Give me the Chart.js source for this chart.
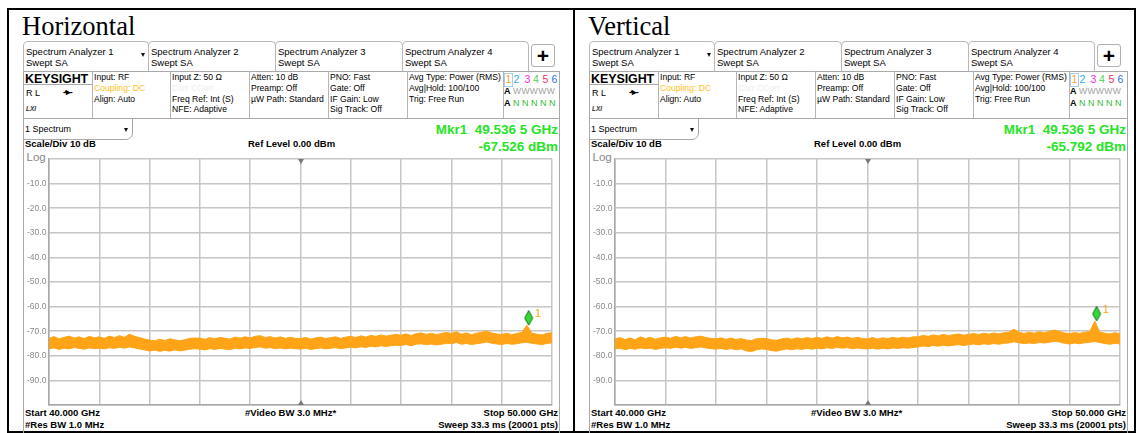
<!DOCTYPE html>
<html><head><meta charset="utf-8">
<script src="https://cdn.jsdelivr.net/npm/chart.js@4.4.1/dist/chart.umd.min.js"></script>
<style>
html,body{margin:0;padding:0;background:#fff;}
body{width:1136px;height:433px;position:relative;overflow:hidden;font-family:"Liberation Sans",Arial,sans-serif;color:#000;}
.a{position:absolute;white-space:pre;line-height:1;}
.box{position:absolute;box-sizing:border-box;}
canvas{position:absolute;}
</style></head><body>
<script>
// ---------------- data ----------------
const freqGHz = [
 40.0,40.1,40.2,40.3,40.4,40.5,40.6,40.7,40.8,40.9,
 41.0,41.1,41.2,41.3,41.4,41.5,41.6,41.7,41.8,41.9,
 42.0,42.1,42.2,42.3,42.4,42.5,42.6,42.7,42.8,42.9,
 43.0,43.1,43.2,43.3,43.4,43.5,43.6,43.7,43.8,43.9,
 44.0,44.1,44.2,44.3,44.4,44.5,44.6,44.7,44.8,44.9,
 45.0,45.1,45.2,45.3,45.4,45.5,45.6,45.7,45.8,45.9,
 46.0,46.1,46.2,46.3,46.4,46.5,46.6,46.7,46.8,46.9,
 47.0,47.1,47.2,47.3,47.4,47.5,47.6,47.7,47.8,47.9,
 48.0,48.1,48.2,48.3,48.4,48.5,48.6,48.7,48.8,48.9,
 49.0,49.1,49.2,49.3,49.4,49.5,49.6,49.7,49.8,49.9,50.0];

// Horizontal: upper / lower edge of the noisy trace (dBm)
const horizUpper = [
 -72.9,-72.2,-73.1,-72.5,-72.0,-72.8,-72.3,-73.0,-72.1,-72.7,
 -72.3,-72.9,-72.0,-72.6,-71.8,-72.5,-71.2,-72.1,-72.6,-73.2,
 -73.6,-73.9,-73.3,-73.8,-73.1,-73.5,-73.9,-73.5,-72.9,-72.8,
 -72.8,-73.3,-72.6,-73.1,-72.5,-72.9,-73.2,-72.4,-72.8,-72.3,
 -72.7,-72.1,-71.8,-72.6,-72.2,-72.8,-72.3,-72.9,-72.5,-72.9,
 -73.0,-72.5,-73.2,-72.7,-72.4,-73.0,-72.6,-72.3,-72.9,-72.4,
 -72.1,-72.6,-71.9,-72.4,-71.7,-72.1,-71.5,-72.0,-71.6,-71.3,
 -71.6,-71.1,-71.7,-71.0,-70.7,-71.3,-70.8,-71.4,-70.9,-70.5,
 -70.9,-70.2,-71.2,-70.7,-71.4,-70.8,-70.4,-69.9,-70.7,-71.1,
 -71.3,-70.8,-71.4,-70.9,-70.5,-67.6,-70.8,-71.2,-71.5,-70.9,-70.6];
const horizLower = [
 -77.1,-76.8,-77.4,-76.9,-77.2,-76.6,-77.0,-77.3,-76.8,-77.1,
 -76.9,-77.2,-76.7,-77.0,-76.5,-76.9,-76.4,-76.8,-77.2,-77.6,
 -78.0,-77.7,-78.2,-77.8,-78.1,-77.6,-78.0,-77.7,-77.3,-77.1,
 -77.3,-77.6,-77.1,-77.4,-77.0,-77.3,-77.5,-76.9,-77.2,-76.8,
 -77.0,-76.6,-76.4,-76.9,-76.7,-77.1,-76.8,-77.2,-76.9,-77.1,
 -77.3,-76.9,-77.4,-77.1,-76.8,-77.2,-76.9,-76.7,-77.1,-76.8,
 -76.5,-76.8,-76.3,-76.6,-76.1,-76.4,-75.9,-76.2,-75.9,-75.7,
 -75.8,-75.4,-75.9,-75.3,-75.1,-75.5,-75.2,-75.6,-75.3,-74.9,
 -75.1,-74.6,-75.3,-75.0,-75.4,-75.1,-74.8,-74.4,-74.9,-75.2,
 -75.4,-75.0,-75.3,-75.1,-74.7,-74.5,-74.9,-75.2,-75.4,-75.0,-74.7];

// Vertical: upper / lower edge of the noisy trace (dBm)
const vertUpper = [
 -73.2,-72.6,-73.4,-72.8,-73.5,-72.3,-73.0,-72.5,-73.3,-72.7,
 -72.4,-72.9,-72.1,-72.7,-72.2,-72.8,-72.3,-72.0,-72.6,-72.9,
 -73.1,-72.7,-73.3,-72.8,-73.4,-73.0,-73.6,-73.8,-73.1,-72.9,
 -73.0,-73.5,-73.7,-73.1,-72.8,-73.3,-72.7,-73.1,-72.6,-73.0,
 -72.5,-72.9,-72.3,-72.8,-72.2,-72.7,-72.4,-72.9,-72.5,-73.0,
 -73.1,-72.6,-73.2,-72.7,-73.0,-72.5,-72.9,-72.4,-72.8,-72.3,
 -72.3,-71.7,-72.1,-71.5,-71.9,-71.3,-71.8,-71.4,-71.1,-71.6,
 -71.3,-70.9,-71.4,-70.8,-71.2,-70.7,-71.1,-70.6,-70.4,-69.2,
 -70.4,-70.9,-70.4,-70.8,-70.2,-70.6,-70.1,-69.5,-70.1,-70.7,
 -71.0,-70.5,-70.9,-70.4,-70.2,-65.9,-70.4,-70.8,-71.1,-70.6,-71.0];
const vertLower = [
 -77.2,-76.9,-77.5,-77.0,-77.3,-76.8,-77.1,-76.9,-77.4,-77.0,
 -76.7,-77.0,-76.5,-76.9,-76.6,-77.0,-76.7,-76.4,-76.8,-77.1,
 -77.3,-77.0,-77.4,-77.1,-77.5,-77.2,-78.0,-78.3,-77.6,-77.2,
 -77.4,-77.9,-78.1,-77.6,-77.2,-77.5,-77.1,-77.4,-77.0,-77.3,
 -76.9,-77.2,-76.7,-77.0,-76.6,-76.9,-76.7,-77.1,-76.8,-77.1,
 -77.2,-76.9,-77.3,-77.0,-77.2,-76.8,-77.0,-76.7,-76.9,-76.6,
 -76.4,-76.0,-76.3,-75.8,-76.1,-75.7,-76.0,-75.7,-75.5,-75.8,
 -75.5,-75.2,-75.6,-75.1,-75.4,-75.0,-75.3,-74.9,-74.8,-74.3,
 -74.7,-75.1,-74.8,-75.0,-74.6,-74.8,-74.5,-74.1,-74.4,-74.9,
 -75.2,-74.8,-75.1,-74.7,-74.5,-74.2,-74.6,-75.0,-75.3,-74.9,-75.2];

const markerFreqGHz = [49.5365, 49.5365];
const markerLevelDbm = [-67.526, -65.792];
const markerFreqText = ["Mkr1  49.536 5 GHz", "Mkr1  49.536 5 GHz"];
const markerLevelText = ["-67.526 dBm", "-65.792 dBm"];
const panelTitles = ["Horizontal", "Vertical"];
const startGHz = 40, stopGHz = 50, centerGHz = 45;
const refLevel = 0, bottomLevel = -100, dbPerDiv = 10;
const tabLabels = ["Spectrum Analyzer 1","Spectrum Analyzer 2","Spectrum Analyzer 3","Spectrum Analyzer 4"];

// ---------------- drawing helpers ----------------
const ORANGE = '#ffa417';
const SANS = '"Liberation Sans",Arial,sans-serif';
const SERIF = '"Liberation Serif","Times New Roman",serif';
function T(p, s, x, base, size, o) {
  o = o || {};
  const d = document.createElement('div');
  d.className = 'a'; d.textContent = s;
  d.style.fontFamily = o.serif ? SERIF : SANS;
  d.style.fontSize = size + 'px';
  d.style.left = x + 'px';
  d.style.top = (base - (o.serif ? 0.8375 : 0.8465) * size) + 'px';
  if (o.bold) d.style.fontWeight = 'bold';
  if (o.italic) d.style.fontStyle = 'italic';
  if (o.color) d.style.color = o.color;
  if (o.ls !== undefined) d.style.letterSpacing = o.ls + 'px';
  if (o.align === 'right') d.style.transform = 'translateX(-100%)';
  if (o.align === 'center') d.style.transform = 'translateX(-50%)';
  p.appendChild(d); return d;
}
function B(p, x, y, w, h, css) {
  const d = document.createElement('div');
  d.className = 'box';
  Object.assign(d.style, {left: x + 'px', top: y + 'px', width: w + 'px', height: h + 'px'}, css || {});
  p.appendChild(d); return d;
}

// diamond marker image (tip at the image centre)
const diamond = document.createElement('canvas');
diamond.width = 12; diamond.height = 32;
(function () {
  const c = diamond.getContext('2d');
  c.beginPath(); c.moveTo(6, 1.5); c.lineTo(10, 9); c.lineTo(6, 16); c.lineTo(2, 9); c.closePath();
  c.fillStyle = '#35d935'; c.fill();
  c.strokeStyle = '#157015'; c.lineWidth = 1; c.stroke();
})();

const decor = {
  id: 'decor',
  afterDatasetsDraw(chart, args, opts) {
    const {ctx, chartArea: a, scales: {x, y}} = chart;
    const cx = Math.round(x.getPixelForValue(centerGHz));
    ctx.save();
    ctx.fillStyle = '#777';
    ctx.beginPath(); ctx.moveTo(cx - 3, a.top); ctx.lineTo(cx + 3, a.top); ctx.lineTo(cx, a.top + 5); ctx.closePath(); ctx.fill();
    ctx.beginPath(); ctx.moveTo(cx - 3, a.bottom); ctx.lineTo(cx + 3, a.bottom); ctx.lineTo(cx, a.bottom - 5); ctx.closePath(); ctx.fill();
    const mx = x.getPixelForValue(opts.mf), my = y.getPixelForValue(opts.ml);
    ctx.fillStyle = ORANGE;
    ctx.font = '11.5px ' + SANS;
    ctx.textBaseline = 'alphabetic';
    ctx.fillText('1', mx + 6, my - 8);
    ctx.restore();
  }
};

function panel(idx, ox, R, upper, lower) {
  const p = document.createElement('div');
  Object.assign(p.style, {position: 'absolute', left: ox + 'px', top: '0px', width: (R + 4) + 'px', height: '433px'});
  document.body.appendChild(p);

  T(p, panelTitles[idx], 22, 35, 26.5, {serif: true});

  // tabs
  const tabX = [23, 148, 275, 402, 528];
  for (let i = 0; i < 4; i++) {
    B(p, tabX[i], 41, tabX[i + 1] - tabX[i] + 1, 31, {border: '1px solid #b8b8b8', borderBottom: 'none', borderRadius: '5px 5px 0 0', background: '#fff'});
    T(p, tabLabels[i], tabX[i] + 3, 55.5, 9.5);
    T(p, 'Swept SA', tabX[i] + 3, 66.5, 9.5);
  }
  B(p, 141, 53, 0, 0, {borderLeft: '2.5px solid transparent', borderRight: '2.5px solid transparent', borderTop: '4px solid #111'});
  B(p, 531, 44, 24, 23, {border: '1px solid #b0b0b0', borderRadius: '3px'});
  T(p, '+', 543, 63, 21, {bold: true, align: 'center'});

  // screen frame
  B(p, 23, 71, R - 23 + 1, 370, {border: '1px solid #a9a9a9'});
  B(p, 23, 118, R - 23, 1, {background: '#a9a9a9'});
  [92, 170, 249, 328, 407, 503].forEach(x => B(p, x, 71, 1, 47, {background: '#b5b5b5'}));
  B(p, 23, 84, 69, 1, {background: '#a9a9a9'});

  T(p, 'KEYSIGHT', 25, 83.3, 12.5, {bold: true, ls: -0.1});
  T(p, 'R L', 26, 96.7, 9);
  T(p, '-•▸-', 63, 96, 9, {bold: true, ls: -1.5});
  T(p, 'LXI', 26, 112, 6.5, {bold: true, italic: true, color: '#333'});

  const fs = 8.6;
  T(p, 'Input: RF', 94, 80.5, fs);
  T(p, 'Coupling: DC', 94, 91, fs, {color: '#ffc21a'});
  T(p, 'Align: Auto', 94, 102, fs);
  T(p, 'Input Z: 50 Ω', 172, 80.5, fs);
  T(p, 'Corr CCorr', 172, 91, fs, {color: '#eeeeee'});
  T(p, 'Freq Ref: Int (S)', 172, 102, fs);
  T(p, 'NFE: Adaptive', 172, 112.5, fs);
  T(p, 'Atten: 10 dB', 251, 80.5, fs);
  T(p, 'Preamp: Off', 251, 91, fs);
  T(p, 'µW Path: Standard', 251, 102, fs);
  T(p, 'PNO: Fast', 330, 80.5, fs);
  T(p, 'Gate: Off', 330, 91, fs);
  T(p, 'IF Gain: Low', 330, 102, fs);
  T(p, 'Sig Track: Off', 330, 112.5, fs);
  T(p, 'Avg Type: Power (RMS)', 409, 80.5, fs);
  T(p, 'Avg|Hold: 100/100', 409, 91, fs);
  T(p, 'Trig: Free Run', 409, 102, fs);

  // trace indicators
  B(p, 503.5, 73, 9, 14, {border: '1px solid #a8cdea'});
  const tc = ['#f7a21b', '#1fb5ec', '#ec2ce6', '#4fd34f', '#f0325a', '#2b6ff2'];
  const tx = [505.5, 513.5, 524.5, 533, 542.5, 551.5];
  for (let i = 0; i < 6; i++) T(p, String(i + 1), tx[i], 83.3, 10.5, {color: tc[i]});
  T(p, 'A', 504, 94.5, 9, {bold: true});
  T(p, 'WWWWW', 513, 94.5, 8.6, {color: '#a0a0a0', ls: 0.3});
  T(p, 'A', 504, 106.7, 9, {bold: true});
  T(p, 'N N N N N', 513, 106.7, 9, {color: '#3ab83a'});

  // spectrum selector + header
  B(p, 23, 118, 110, 22, {border: '1px solid #a9a9a9', borderRadius: '0 0 7px 0'});
  T(p, '1 Spectrum', 25, 133, 9);
  B(p, 124, 128, 0, 0, {borderLeft: '2.5px solid transparent', borderRight: '2.5px solid transparent', borderTop: '4px solid #111'});
  T(p, 'Scale/Div 10 dB', 25, 147.5, 9.5, {bold: true});
  T(p, 'Ref Level 0.00 dBm', 248, 147.5, 9.5, {bold: true});
  T(p, markerFreqText[idx], R - 1, 134, 13.5, {bold: true, color: '#25e325', align: 'right'});
  T(p, markerLevelText[idx], R - 1, 151, 13.5, {bold: true, color: '#25e325', align: 'right'});
  T(p, 'Log', 26.5, 161.5, 11.5, {color: '#8a8a8a'});

  // footer
  T(p, 'Start 40.000 GHz', 25, 416.5, 9.5, {bold: true});
  T(p, '#Res BW 1.0 MHz', 25, 428, 9.5, {bold: true});
  T(p, '#Video BW 3.0 MHz*', 245, 416.5, 9.5, {bold: true});
  T(p, 'Stop 50.000 GHz', R - 1, 416.5, 9.5, {bold: true, align: 'right'});
  T(p, 'Sweep 33.3 ms (20001 pts)', R - 1, 428, 9.5, {bold: true, align: 'right'});

  // chart
  const cv = document.createElement('canvas');
  const cw = R - 23, ch = 260;
  cv.width = cw; cv.height = ch;
  cv.style.left = '23px'; cv.style.top = '152px';
  cv.style.width = cw + 'px'; cv.style.height = ch + 'px';
  p.appendChild(cv);

  const gridCol = '#c6c6c6';
  new Chart(cv.getContext('2d'), {
    type: 'line',
    data: {
      datasets: [
        {data: freqGHz.map((f, i) => ({x: f, y: upper[i]})), borderColor: ORANGE, backgroundColor: ORANGE,
         borderWidth: 1, pointRadius: 0, fill: '+1', tension: 0},
        {data: freqGHz.map((f, i) => ({x: f, y: lower[i]})), borderColor: ORANGE, backgroundColor: ORANGE,
         borderWidth: 1, pointRadius: 0, fill: false, tension: 0},
        {type: 'scatter', data: [{x: markerFreqGHz[idx], y: markerLevelDbm[idx]}], pointStyle: diamond,
         pointRadius: 6, showLine: false}
      ]
    },
    options: {
      animation: false, responsive: false, maintainAspectRatio: false, events: [],
      layout: {padding: {left: 4, right: 1, top: 5, bottom: 5}},
      plugins: {legend: {display: false}, tooltip: {enabled: false}, decor: {mf: markerFreqGHz[idx], ml: markerLevelDbm[idx]}},
      scales: {
        x: {type: 'linear', min: startGHz, max: stopGHz,
            ticks: {display: false, stepSize: 1},
            grid: {color: gridCol, lineWidth: 1.5, drawTicks: false},
            border: {color: '#a8a8a8', width: 1.5},
            afterFit(s) { s.height = 0; }},
        y: {type: 'linear', min: bottomLevel, max: refLevel,
            ticks: {stepSize: dbPerDiv, crossAlign: 'far', padding: 0, color: '#8a8a8a',
                    font: {size: 8.5, family: SANS},
                    callback: v => (v === refLevel || v === bottomLevel) ? '' : v.toFixed(1)},
            grid: {color: gridCol, lineWidth: 1.5, drawTicks: false},
            border: {color: '#a8a8a8', width: 1.5},
            afterFit(s) { s.width = 22; }}
      }
    },
    plugins: [decor]
  });
}

// table borders
B(document.body, 7, 8, 1129, 2, {background: '#000'});
B(document.body, 7, 8, 2, 425, {background: '#000'});
B(document.body, 573, 8, 2, 425, {background: '#000'});
B(document.body, 1134, 8, 2, 425, {background: '#000'});
B(document.body, 7, 431, 1129, 2, {background: '#000'});

panel(0, 0, 559, horizUpper, horizLower);
panel(1, 566, 561, vertUpper, vertLower);
</script>
</body></html>
